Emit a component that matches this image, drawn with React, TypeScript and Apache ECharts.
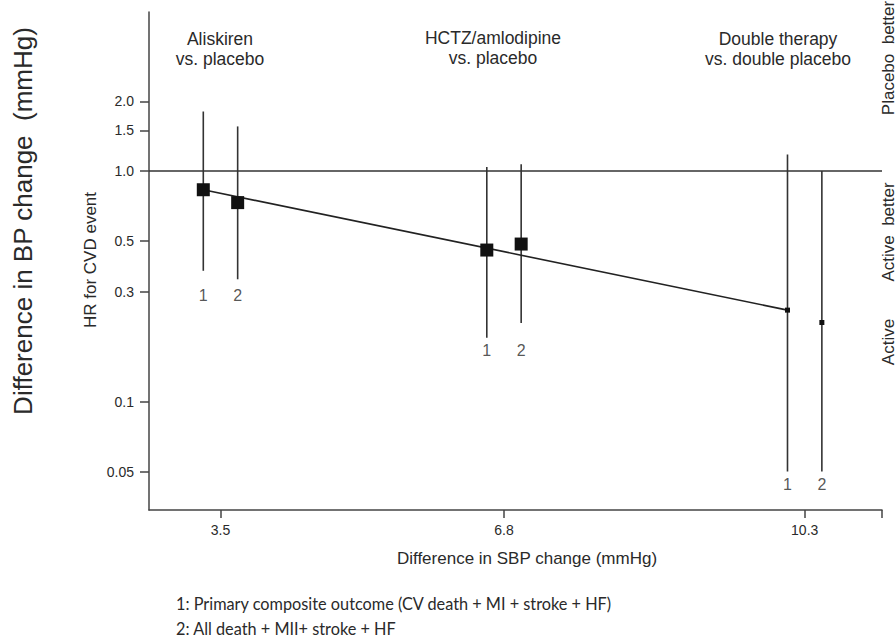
import React, { useEffect, useRef } from "react";
import * as echarts from "echarts";

// ---- data ----
const groupTitles = ["Aliskiren\nvs. placebo", "HCTZ/amlodipine\nvs. placebo", "Double therapy\nvs. double placebo"];
const pointX = [3.3, 3.7, 6.6, 7.0, 10.1, 10.5];
const hr = [0.83, 0.73, 0.455, 0.483, 0.25, 0.221];
const ciLow = [0.37, 0.34, 0.19, 0.22, 0.05, 0.05];
const ciHigh = [1.81, 1.56, 1.04, 1.07, 1.18, 1.0];
const outcomeLabels = ["1", "2", "1", "2", "1", "2"];
const outcomeLabelHR = [0.29, 0.29, 0.168, 0.168, 0.044, 0.044];
const regressionX = [3.3, 10.1];
const regressionHR = [0.83, 0.25];
const yTickValues = [0.05, 0.1, 0.3, 0.5, 1.0, 1.5, 2.0];
const yTickLabels = ["0.05", "0.1", "0.3", "0.5", "1.0", "1.5", "2.0"];
const xTickValues = [3.5, 6.8, 10.3];
const xTickLabels = ["3.5", "6.8", "10.3"];
const yMinHR = 0.0341;
const yMaxHR = 4.88;
const xMin = 2.668;
const xMax = 11.2;
const footnotes = [
  "1: Primary composite outcome (CV death + MI + stroke + HF)",
  "2: All death + MII+ stroke + HF",
];

const L = (v: number) => Math.log10(v);
const SANS = "'Liberation Sans', Arial, sans-serif";
const TXT = "#2a2a2a";

export default function App() {
  const ref = useRef<HTMLDivElement>(null);
  useEffect(() => {
    if (!ref.current) return;
    const chart = echarts.init(ref.current, undefined, { renderer: "svg" });
    const yTickLog = yTickValues.map(L);
    const option: any = {
      animation: false,
      backgroundColor: "#ffffff",
      grid: { left: 149, right: 14, top: 12, bottom: 128, containLabel: false },
      xAxis: {
        type: "value",
        min: xMin,
        max: xMax,
        splitLine: { show: false },
        axisLine: { show: true, onZero: false, lineStyle: { color: "#444", width: 1.5 } },
        axisTick: { show: true, length: 8, lineStyle: { color: "#444", width: 1.5 }, customValues: [...xTickValues, xMax] },
        axisLabel: {
          customValues: xTickValues,
          margin: 13,
          fontSize: 14,
          color: TXT,
          fontFamily: SANS,
          formatter: (v: number) => {
            const i = xTickValues.findIndex((t) => Math.abs(t - v) < 1e-6);
            return i >= 0 ? xTickLabels[i] : "";
          },
        },
      },
      yAxis: {
        type: "value",
        min: L(yMinHR),
        max: L(yMaxHR),
        splitLine: { show: false },
        axisLine: { show: true, onZero: false, lineStyle: { color: "#444", width: 1.5 } },
        axisTick: { show: true, length: 9, lineStyle: { color: "#444", width: 1.5 }, customValues: yTickLog },
        axisLabel: {
          customValues: yTickLog,
          margin: 15,
          fontSize: 14,
          color: TXT,
          fontFamily: SANS,
          formatter: (v: number) => {
            const i = yTickLog.findIndex((t) => Math.abs(t - v) < 1e-6);
            return i >= 0 ? yTickLabels[i] : "";
          },
        },
      },
      series: [
        {
          type: "custom",
          name: "CI",
          z: 2,
          renderItem: (params: any, api: any) => {
            const x = api.value(0);
            const p1 = api.coord([x, api.value(1)]);
            const p2 = api.coord([x, api.value(2)]);
            return {
              type: "line",
              shape: { x1: p1[0], y1: p1[1], x2: p2[0], y2: p2[1] },
              style: { stroke: "#333", lineWidth: 1.6 },
            };
          },
          data: pointX.map((x, i) => [x, L(ciLow[i]), L(ciHigh[i])]),
        },
        {
          type: "line",
          name: "regression",
          z: 3,
          showSymbol: false,
          symbol: "none",
          lineStyle: { color: "#222", width: 1.6 },
          data: regressionX.map((x, i) => [x, L(regressionHR[i])]),
          markLine: {
            silent: true,
            symbol: "none",
            label: { show: false },
            lineStyle: { color: "#333", width: 1.6, type: "solid" },
            data: [{ yAxis: 0 }],
          },
        },
        {
          type: "scatter",
          name: "HR",
          z: 4,
          symbol: "rect",
          symbolSize: (_v: any, p: any) => (p.dataIndex < 4 ? 13 : 5),
          itemStyle: { color: "#111", opacity: 1 },
          data: pointX.map((x, i) => [x, L(hr[i])]),
        },
        {
          type: "scatter",
          name: "labels",
          z: 5,
          symbolSize: 1,
          itemStyle: { color: "rgba(0,0,0,0)" },
          label: {
            show: true,
            position: "inside",
            fontSize: 16,
            color: TXT,
            fontFamily: SANS,
            formatter: (p: any) => outcomeLabels[p.dataIndex],
          },
          data: pointX.map((x, i) => [x, L(outcomeLabelHR[i])]),
        },
      ],
      graphic: [
        { type: "text", x: 220, y: 49, style: { text: groupTitles[0], align: "center", verticalAlign: "middle", font: `17.5px ${SANS}`, fill: TXT, lineHeight: 20 } },
        { type: "text", x: 493, y: 48, style: { text: groupTitles[1], align: "center", verticalAlign: "middle", font: `17.5px ${SANS}`, fill: TXT, lineHeight: 20 } },
        { type: "text", x: 778, y: 49, style: { text: groupTitles[2], align: "center", verticalAlign: "middle", font: `17.5px ${SANS}`, fill: TXT, lineHeight: 20 } },
        { type: "text", x: 23, y: 221, rotation: Math.PI / 2, style: { text: "Difference in BP change  (mmHg)", align: "center", verticalAlign: "middle", font: `26px ${SANS}`, fill: TXT } },
        { type: "text", x: 90, y: 260, rotation: Math.PI / 2, style: { text: "HR for CVD event", align: "center", verticalAlign: "middle", font: `17px ${SANS}`, fill: TXT } },
        { type: "text", x: 888, y: 58, rotation: Math.PI / 2, style: { text: "Placebo  better", align: "center", verticalAlign: "middle", font: `17px ${SANS}`, fill: TXT } },
        { type: "text", x: 888, y: 232, rotation: Math.PI / 2, style: { text: "Active  better", align: "center", verticalAlign: "middle", font: `17px ${SANS}`, fill: TXT } },
        { type: "text", x: 888, y: 342, rotation: Math.PI / 2, style: { text: "Active", align: "center", verticalAlign: "middle", font: `17px ${SANS}`, fill: TXT } },
        { type: "text", x: 527, y: 558, style: { text: "Difference in SBP change (mmHg)", align: "center", verticalAlign: "middle", font: `17px ${SANS}`, fill: TXT } },
        { type: "text", x: 176, y: 603, style: { text: footnotes[0], align: "left", verticalAlign: "middle", font: `16.3px Lato, 'Open Sans', sans-serif`, fill: TXT } },
        { type: "text", x: 176, y: 628, style: { text: footnotes[1], align: "left", verticalAlign: "middle", font: `16.3px Lato, 'Open Sans', sans-serif`, fill: TXT } },
      ],
    };
    chart.setOption(option);
    return () => chart.dispose();
  }, []);
  return <div ref={ref} style={{ position: "fixed", left: 0, top: 0, width: 896, height: 638 }} />;
}
